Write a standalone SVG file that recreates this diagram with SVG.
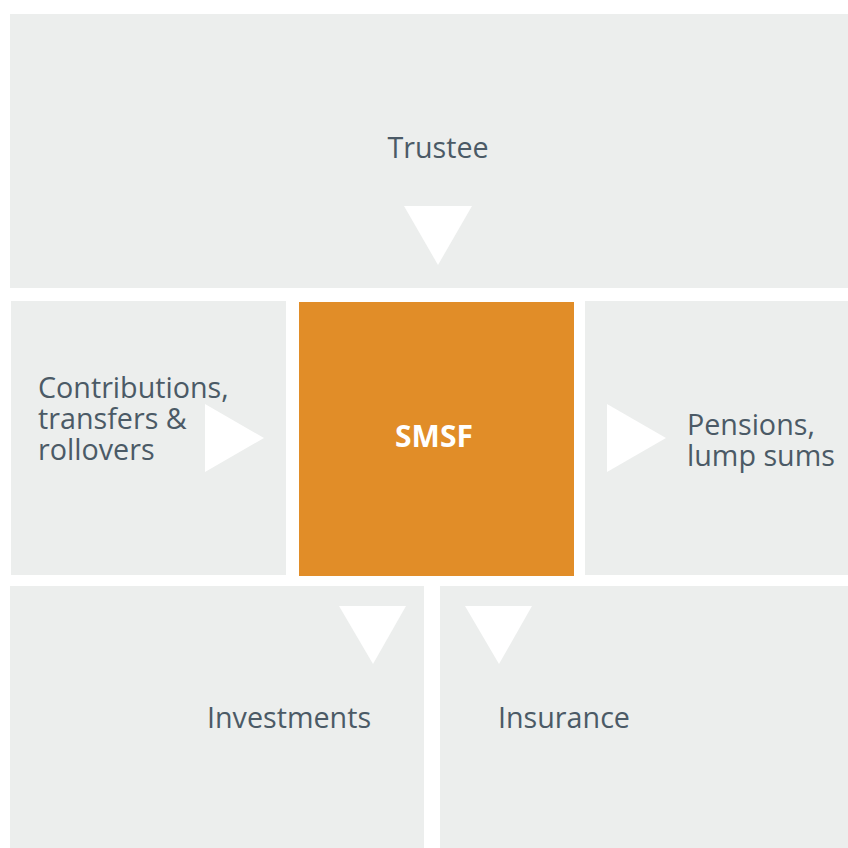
<svg xmlns="http://www.w3.org/2000/svg" width="848" height="848" viewBox="0 0 848 848">
<style>
.box{fill:#eceeed}
.core{fill:#e18d28}
.arrow{fill:#ffffff}
.lbl{font-family:"Open Sans","Noto Sans","Liberation Sans",sans-serif;font-size:28.7px;fill:#4b5a66}
.core-lbl{font-family:"Open Sans","Noto Sans","Liberation Sans",sans-serif;font-size:30px;font-weight:bold;fill:#ffffff}
</style>
<rect width="848" height="848" fill="#ffffff"/>
<g id="trustee">
<rect class="box" x="10" y="14" width="838" height="274"/>
<text class="lbl" x="438" y="158" text-anchor="middle">Trustee</text>
</g>
<g id="contributions">
<rect class="box" x="11" y="301" width="275" height="274"/>
<text class="lbl" x="38" y="398"><tspan x="38" y="398">Contributions,</tspan><tspan x="38" y="429">transfers &amp;</tspan><tspan x="38" y="460">rollovers</tspan></text>
</g>
<g id="smsf">
<rect class="core" x="299" y="302" width="275" height="274"/>
<text class="core-lbl" x="434" y="447" text-anchor="middle">SMSF</text>
</g>
<g id="pensions">
<rect class="box" x="585" y="301" width="263" height="274"/>
<text class="lbl" x="687" y="435"><tspan x="687" y="435">Pensions,</tspan><tspan x="687" y="466">lump sums</tspan></text>
</g>
<g id="investments">
<rect class="box" x="10" y="586" width="414" height="262"/>
<text class="lbl" x="207" y="728">Investments</text>
</g>
<g id="insurance">
<rect class="box" x="440" y="586" width="408" height="262"/>
<text class="lbl" x="498" y="728">Insurance</text>
</g>
<g id="connectors">
<polygon class="arrow" points="404,206 472,206 438,265"/>
<polygon class="arrow" points="205,404 205,472 264,438"/>
<polygon class="arrow" points="607,404 607,472 666,438"/>
<polygon class="arrow" points="339,606 406,606 373,664"/>
<polygon class="arrow" points="465,606 532,606 499,664"/>
</g>
</svg>
